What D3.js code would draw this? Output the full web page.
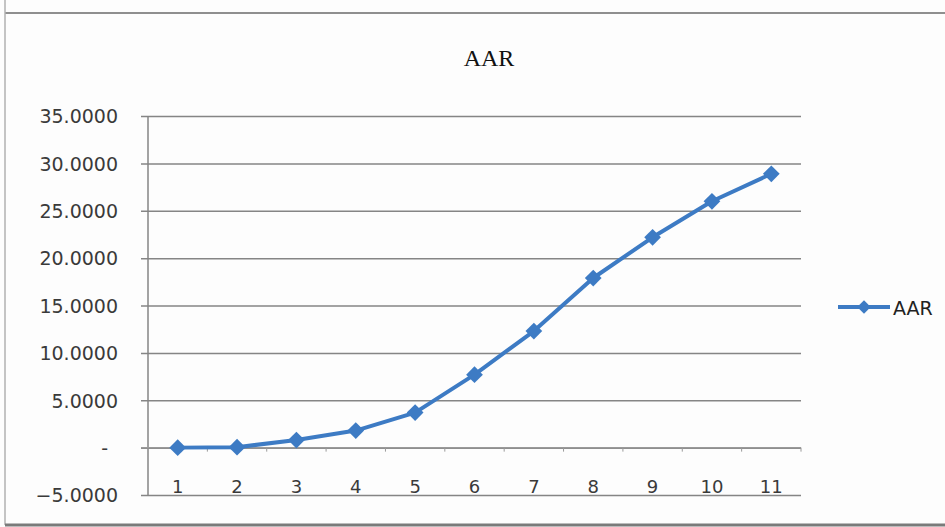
<!DOCTYPE html>
<html>
<head>
<meta charset="utf-8">
<script src="https://cdn.jsdelivr.net/npm/d3@7"></script>
<style>
  body { margin: 0; background: #fff; }
  svg { display: block; }
</style>
</head>
<body>
<div id="chart"></div>
<script>
// data
const periods = ["1", "2", "3", "4", "5", "6", "7", "8", "9", "10", "11"];
const aarValues = [0.0, 0.05, 0.8, 1.8, 3.7, 7.7, 12.3, 17.9, 22.2, 26.0, 28.9];
const yTicks = [-5, 0, 5, 10, 15, 20, 25, 30, 35];
const seriesName = "AAR";

const width = 945, height = 527;
const blue = "#3d7bc4", grid = "#858585", textColor = "#3a3a3a";

let svg = d3.select("#chart")
    .append("svg")
    .attr("width", width)
    .attr("height", height);

svg.append("rect").attr("width", width).attr("height", height).attr("fill", "#fdfdfd");

// outer frame of the chart object
svg.append("line").attr("x1", 5).attr("x2", width).attr("y1", 13).attr("y2", 13)
    .attr("stroke", "#8f8f8f").attr("stroke-width", 2);
svg.append("line").attr("x1", 5).attr("x2", 5).attr("y1", 0).attr("y2", 525)
    .attr("stroke", "#b0b0b0").attr("stroke-width", 1.5);
svg.append("line").attr("x1", 5).attr("x2", width).attr("y1", 525).attr("y2", 525)
    .attr("stroke", "#7a7a7a").attr("stroke-width", 3);

// plot area
let plot = { left: 148, right: 801, top: 116, bottom: 495 };

let x = d3.scaleBand()
    .domain(periods)
    .range([plot.left, plot.right])
    .padding(0);

let y = d3.scaleLinear()
    .domain([-5, 35])
    .range([plot.bottom, plot.top]);

// gridlines + y axis
let yAxis = svg.append("g")
    .attr("transform", "translate(" + plot.left + ",0)")
    .call(d3.axisLeft(y)
        .tickValues(yTicks)
        .tickSize(-(plot.right - plot.left))
        .tickFormat(d => d === 0 ? "-" : d3.format(".4f")(d)));
yAxis.select(".domain").remove();
yAxis.selectAll(".tick line")
    .attr("x1", -7)
    .attr("stroke", grid)
    .attr("stroke-width", 1.5);
yAxis.selectAll(".tick text")
    .attr("x", d => d === 0 ? -40 : -30)
    .attr("dy", "0.36em")
    .style("font-family", "'DejaVu Sans', sans-serif")
    .style("font-size", "19px")
    .attr("fill", textColor);

// value axis line
svg.append("line")
    .attr("x1", plot.left).attr("x2", plot.left)
    .attr("y1", plot.top).attr("y2", plot.bottom)
    .attr("stroke", grid).attr("stroke-width", 1.5);

// category axis sits on zero, with small ticks at the band edges
let xAxis = svg.append("g")
    .attr("transform", "translate(0," + y(0) + ")");
xAxis.append("line")
    .attr("x1", plot.left - 7).attr("x2", plot.right)
    .attr("stroke", "#9a9a9a").attr("stroke-width", 1.5);
let edges = periods.map(p => x(p)).concat([x.range()[1]]);
xAxis.selectAll(".cattick")
    .data(edges.slice(1))
    .enter().append("line")
    .attr("class", "cattick")
    .attr("x1", d => d).attr("x2", d => d)
    .attr("y1", 0).attr("y2", 4)
    .attr("stroke", "#9a9a9a").attr("stroke-width", 1);

// category labels placed low, above the -5 line
svg.selectAll(".catlabel")
    .data(periods)
    .enter().append("text")
    .attr("class", "catlabel")
    .attr("x", d => x(d) + x.bandwidth() / 2)
    .attr("y", 493)
    .attr("text-anchor", "middle")
    .style("font-family", "'DejaVu Sans', sans-serif")
    .style("font-size", "18px")
    .attr("fill", textColor)
    .text(d => d);

// series line
let cx = d => x(d) + x.bandwidth() / 2;
svg.append("path")
    .datum(aarValues)
    .attr("d", d3.line()
        .x((d, i) => cx(periods[i]))
        .y(d => y(d)))
    .attr("fill", "none")
    .attr("stroke", blue)
    .attr("stroke-width", 4)
    .attr("stroke-linejoin", "round");

// diamond markers
let diamond = d3.symbol().type(d3.symbolSquare).size(140);
svg.selectAll(".marker")
    .data(aarValues)
    .enter().append("path")
    .attr("class", "marker")
    .attr("d", diamond)
    .attr("transform", (d, i) => "translate(" + cx(periods[i]) + "," + y(d) + ") rotate(45)")
    .attr("fill", blue);

// title
svg.append("text")
    .attr("x", 489)
    .attr("y", 66)
    .attr("text-anchor", "middle")
    .style("font-family", "'Liberation Serif', 'Times New Roman', serif")
    .style("font-size", "24px")
    .attr("fill", "#111")
    .text(seriesName);

// legend
let legend = svg.append("g").attr("transform", "translate(838,307)");
legend.append("line")
    .attr("x1", 0).attr("x2", 52)
    .attr("stroke", blue).attr("stroke-width", 4);
legend.append("path")
    .attr("d", d3.symbol().type(d3.symbolSquare).size(90))
    .attr("transform", "translate(26,0) rotate(45)")
    .attr("fill", blue);
legend.append("text")
    .attr("x", 55)
    .attr("y", 8)
    .style("font-family", "'DejaVu Sans', sans-serif")
    .style("font-size", "19px")
    .attr("fill", "#222")
    .text(seriesName);
</script>
</body>
</html>
